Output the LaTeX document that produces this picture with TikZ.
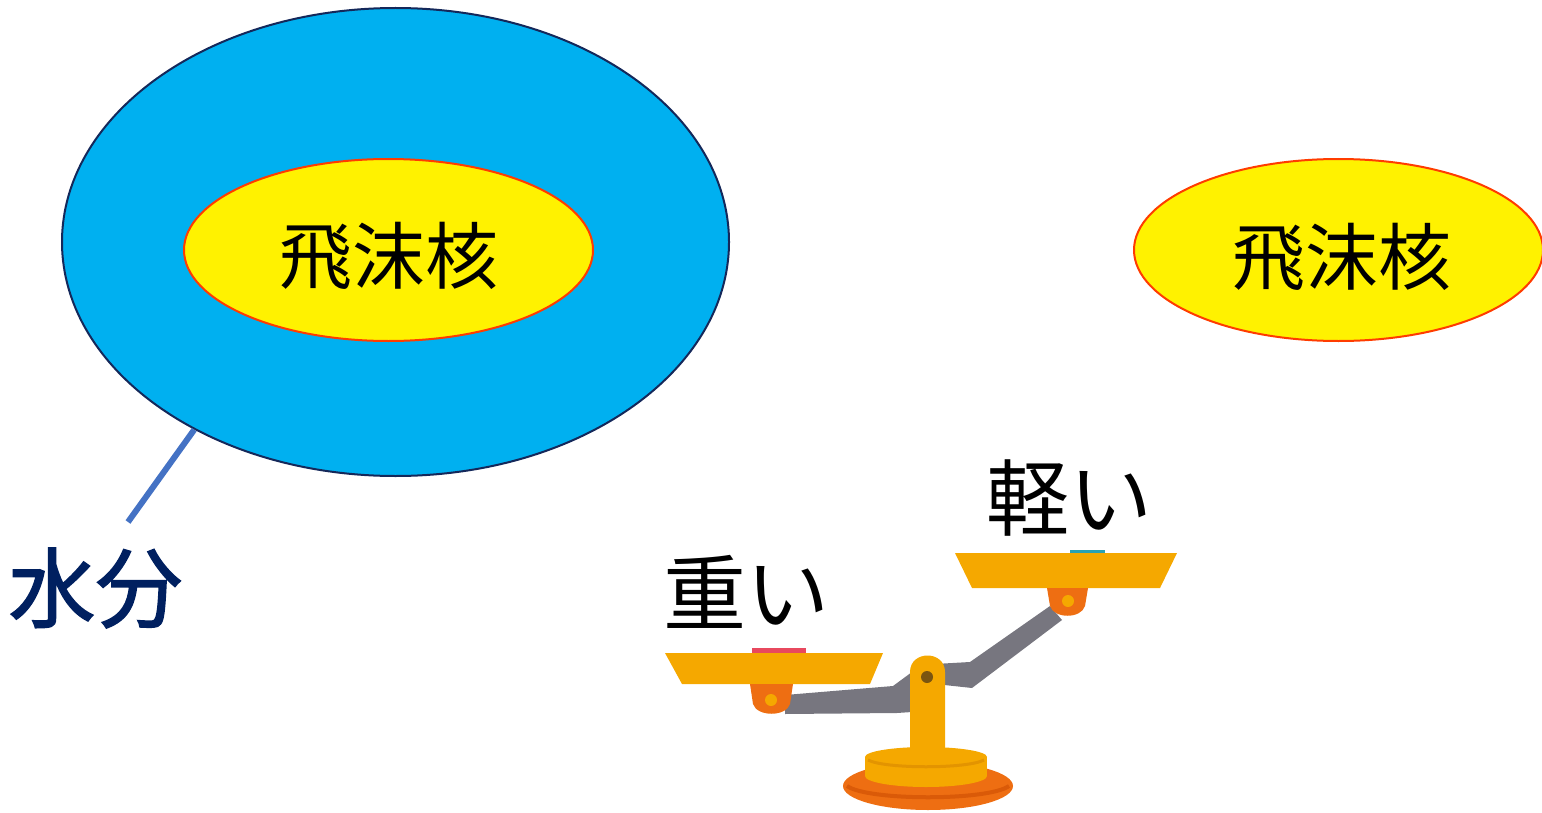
\documentclass[tikz,border=0pt]{standalone}
\usepackage{fontspec}
\usepackage{tikz}
\usetikzlibrary{shapes.geometric}
\newfontfamily\jp{Noto Sans CJK JP}
\newfontfamily\jpthick[FakeBold=1.6]{Noto Sans CJK JP}
\definecolor{water}{HTML}{00B0F0}
\definecolor{wateredge}{HTML}{14285A}
\definecolor{coreedge}{HTML}{FF3C00}
\definecolor{navytext}{HTML}{002060}
\definecolor{leaderblue}{HTML}{4472C4}
\definecolor{panyellow}{HTML}{F5A800}
\definecolor{panshade}{HTML}{E39400}
\definecolor{hingeorange}{HTML}{EE6E12}
\definecolor{basedark}{HTML}{DA5A08}
\definecolor{beamgray}{HTML}{77767F}
\definecolor{pivotbrown}{HTML}{7A5410}
\definecolor{weightred}{HTML}{E8485E}
\definecolor{weightteal}{HTML}{2AA2B4}
\tikzstyle{nucleus} = [ellipse, draw=coreedge, fill=yellow, line width=1pt, minimum width=204.5pt, minimum height=91pt, inner sep=0pt]
\tikzstyle{kanji}   = [inner sep=0pt, font=\jp\fontsize{36.5pt}{40pt}\selectfont]
\tikzstyle{weight}  = [inner sep=0pt, font=\jp\fontsize{41.5pt}{44pt}\selectfont]

\begin{document}
\begin{tikzpicture}[x=0.5pt, y=-0.5pt,
		droplet/.style={ellipse, draw=wateredge, fill=water, line width=1pt, minimum width=333.5pt, minimum height=234pt, inner sep=0pt},
		waterword/.style={inner sep=0pt, text=navytext, font=\jpthick\fontsize{43.5pt}{46pt}\selectfont},
		leaderline/.style={draw=leaderblue, line width=3pt},
		pan/.style={fill=panyellow},
		hinge/.style={fill=hingeorange},
	]
	\useasboundingbox (0,0) rectangle (1542,813);

	% droplet with water shell, and the bare nucleus
	\node[droplet] (drop) at (395.5,242) {};
	\node[nucleus] (coreL) at (388.5,250) {};
	\node[kanji] (coreLtext) at (389,256) {飛沫核};
	\node[nucleus] (coreR) at (1338.5,250) {};
	\node[kanji] (coreRtext) at (1342,257) {飛沫核};

	\node[waterword] (waterword) at (95.5,588) {水分};
	\coordinate (waterTip) at (128,522);
	\draw[leaderline] (drop.223) -- (waterTip);

	\node[weight] (heavy) at (746,592) {重い};
	\node[weight] (light) at (1069,498) {軽い};

	% balance: beams first, then pillar, base, pans
	\fill[beamgray] (785,695) -- (893,686) -- (912,672) -- (912,712) -- (897,713) -- (785,714) -- cycle;
	\fill[beamgray] (935,664) -- (970,662) -- (1050,606) -- (1062,620) -- (972,688) -- (935,684) -- cycle;

	\fill[hingeorange] (928,786) ellipse [x radius=85, y radius=24];
	\draw[basedark, line width=2pt] (847,786) .. controls (868,801) and (988,801) .. (1009,786);
	\fill[panyellow] (865,757) rectangle (987,776);
	\fill[panyellow] (926,776) ellipse [x radius=61, y radius=11];
	\fill[panyellow] (910,760) -- (910,672) .. controls (910,650) and (945,650) .. (945,672) -- (945,760) -- cycle;
	\fill[panyellow] (926,757) ellipse [x radius=61, y radius=10];
	\draw[panshade, line width=1.5pt] (868,760) .. controls (885,769) and (967,769) .. (984,760);
	\fill[pivotbrown] (927,677) circle [radius=6];

	\fill[weightred] (752,648) rectangle (806,653);
	\fill[pan] (665,653) -- (883,653) -- (870,684) -- (682,684) -- cycle;
	\fill[hinge] (750,684) -- (793,684) -- (790,704) .. controls (786,717) and (757,717) .. (753,704) -- cycle;
	\fill[panyellow] (771,700) circle [radius=6];

	\fill[weightteal] (1070,550) rectangle (1105,553);
	\fill[pan] (955,553) -- (1177,553) -- (1160,588) -- (972,588) -- cycle;
	\fill[hinge] (1047,588) -- (1088,588) -- (1085,606) .. controls (1081,619) and (1054,619) .. (1050,606) -- cycle;
	\fill[panyellow] (1068,601) circle [radius=6];
\end{tikzpicture}
\end{document}
